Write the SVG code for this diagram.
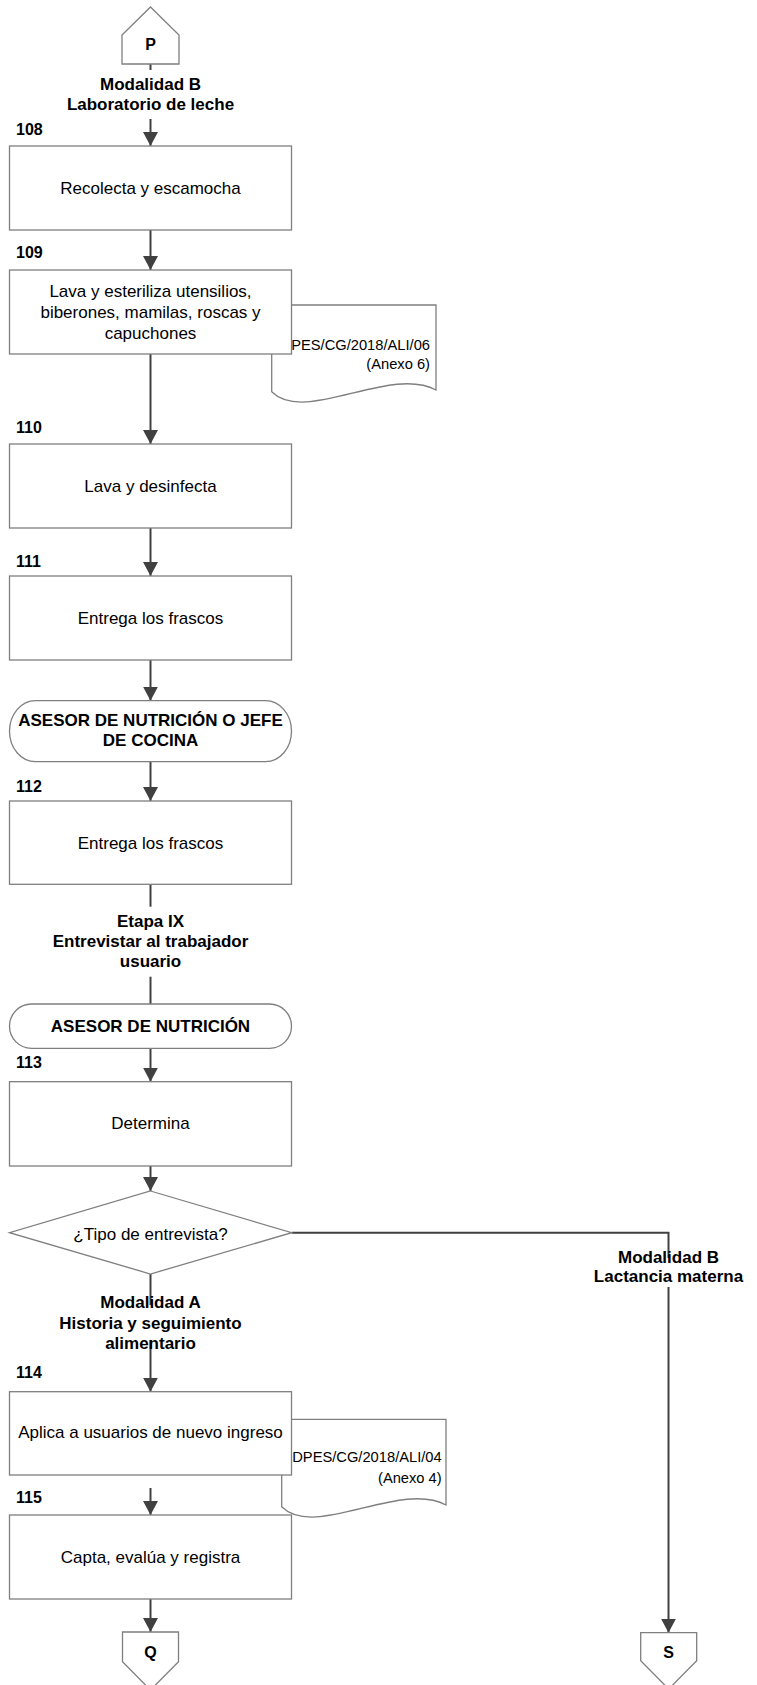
<svg xmlns="http://www.w3.org/2000/svg" width="757" height="1685" viewBox="0 0 757 1685">
<style>
text{font-family:"Liberation Sans",Arial,sans-serif;fill:#000}
.t{font-size:17px;text-anchor:middle}
.b{font-size:17px;font-weight:bold;text-anchor:middle}
.n{font-size:16px;font-weight:bold}
.c{font-size:16px;font-weight:bold;text-anchor:middle}
.d{font-size:14.7px;text-anchor:end}
.box{fill:#fff;stroke:#7f7f7f;stroke-width:1.3}
.ln{fill:none;stroke:#404040;stroke-width:2}
</style>
<defs>
<marker id="arr" viewBox="0 0 14 15" refX="14" refY="7.5" markerWidth="14" markerHeight="15" markerUnits="userSpaceOnUse" orient="auto">
<path d="M0,0 L14,7.5 L0,15 z" fill="#404040"/>
</marker>
</defs>

<g id="connectors">
<line class="ln" x1="150.5" y1="64" x2="150.5" y2="70"/>
<line class="ln" x1="150.5" y1="119" x2="150.5" y2="146" marker-end="url(#arr)"/>
<line class="ln" x1="150.5" y1="230" x2="150.5" y2="270" marker-end="url(#arr)"/>
<line class="ln" x1="150.5" y1="354" x2="150.5" y2="444" marker-end="url(#arr)"/>
<line class="ln" x1="150.5" y1="528" x2="150.5" y2="576" marker-end="url(#arr)"/>
<line class="ln" x1="150.5" y1="660" x2="150.5" y2="700.7" marker-end="url(#arr)"/>
<line class="ln" x1="150.5" y1="761.7" x2="150.5" y2="801" marker-end="url(#arr)"/>
<line class="ln" x1="150.5" y1="884.3" x2="150.5" y2="906.7"/>
<line class="ln" x1="150.5" y1="976.7" x2="150.5" y2="1004"/>
<line class="ln" x1="150.5" y1="1048.3" x2="150.5" y2="1081.7" marker-end="url(#arr)"/>
<line class="ln" x1="150.5" y1="1166" x2="150.5" y2="1191" marker-end="url(#arr)"/>
<line class="ln" x1="150.5" y1="1274" x2="150.5" y2="1305"/>
<line class="ln" x1="150.5" y1="1340" x2="150.5" y2="1391.7" marker-end="url(#arr)"/>
<line class="ln" x1="150.5" y1="1488" x2="150.5" y2="1515" marker-end="url(#arr)"/>
<line class="ln" x1="150.5" y1="1599" x2="150.5" y2="1632" marker-end="url(#arr)"/>
<path class="ln" d="M291.7,1232.7 H668.5 V1258"/>
<line class="ln" x1="668.5" y1="1287" x2="668.5" y2="1632.7" marker-end="url(#arr)"/>
<text class="b" x="150.5" y="90">Modalidad B</text>
<text class="b" x="150.5" y="110">Laboratorio de leche</text>
<text class="b" x="150.5" y="926.7">Etapa IX</text>
<text class="b" x="150.5" y="946.7">Entrevistar al trabajador</text>
<text class="b" x="150.5" y="966.7">usuario</text>
<text class="b" x="150.5" y="1308">Modalidad A</text>
<text class="b" x="150.5" y="1329">Historia y seguimiento</text>
<text class="b" x="150.5" y="1349">alimentario</text>
<text class="b" x="668.5" y="1263">Modalidad B</text>
<text class="b" x="668.5" y="1282">Lactancia materna</text>
</g>

<g id="P">
<path class="box" d="M150.5,7 L179,35 L179,64 L122,64 L122,35 Z"/>
<text class="c" x="150.5" y="50">P</text>
</g>

<g id="n108">
<text class="n" x="16" y="135">108</text>
<rect class="box" x="9.5" y="146" width="282" height="84"/>
<text class="t" x="150.5" y="194">Recolecta y escamocha</text>
</g>

<g id="doc06">
<path class="box" d="M271.7,305 H436 V390 C390,365 305,425 271.7,391.7 Z"/>
<text class="d" x="430" y="350">DPES/CG/2018/ALI/06</text>
<text class="d" x="430" y="369">(Anexo 6)</text>
</g>

<g id="n109">
<text class="n" x="16" y="258">109</text>
<rect class="box" x="9.5" y="270" width="282" height="84"/>
<text class="t" x="150.5" y="297">Lava y esteriliza utensilios,</text>
<text class="t" x="150.5" y="318">biberones, mamilas, roscas y</text>
<text class="t" x="150.5" y="339">capuchones</text>
</g>

<g id="n110">
<text class="n" x="16" y="433">110</text>
<rect class="box" x="9.5" y="444" width="282" height="84"/>
<text class="t" x="150.5" y="492">Lava y desinfecta</text>
</g>

<g id="n111">
<text class="n" x="16" y="567">111</text>
<rect class="box" x="9.5" y="576" width="282" height="84"/>
<text class="t" x="150.5" y="624">Entrega los frascos</text>
</g>

<g id="term1">
<rect class="box" x="9.5" y="700.7" width="282" height="61" rx="26" ry="30.5"/>
<text class="b" x="150.5" y="726">ASESOR DE NUTRICIÓN O JEFE</text>
<text class="b" x="150.5" y="746">DE COCINA</text>
</g>

<g id="n112">
<text class="n" x="16" y="792">112</text>
<rect class="box" x="9.5" y="801" width="282" height="83.3"/>
<text class="t" x="150.5" y="848.5">Entrega los frascos</text>
</g>

<g id="term2">
<rect class="box" x="9.5" y="1004" width="282" height="44.3" rx="22" ry="22"/>
<text class="b" x="150.5" y="1032">ASESOR DE NUTRICIÓN</text>
</g>

<g id="n113">
<text class="n" x="16" y="1068">113</text>
<rect class="box" x="9.5" y="1081.7" width="282" height="84.3"/>
<text class="t" x="150.5" y="1129">Determina</text>
</g>

<g id="decision">
<path class="box" d="M150.5,1191 L291.7,1232.7 L150.5,1274 L9.5,1232.7 Z"/>
<text class="t" x="150.5" y="1240">¿Tipo de entrevista?</text>
</g>

<g id="doc04">
<path class="box" d="M281.7,1419.3 H446 V1505 C400,1480 315,1540 281.7,1506.7 Z"/>
<text class="d" x="441.7" y="1462">DPES/CG/2018/ALI/04</text>
<text class="d" x="441.7" y="1483">(Anexo 4)</text>
</g>

<g id="n114">
<text class="n" x="16" y="1378">114</text>
<rect class="box" x="9.5" y="1391.7" width="282" height="83.3"/>
<text class="t" x="150.5" y="1438">Aplica a usuarios de nuevo ingreso</text>
</g>

<g id="n115">
<text class="n" x="16" y="1503">115</text>
<rect class="box" x="9.5" y="1515" width="282" height="84"/>
<text class="t" x="150.5" y="1563">Capta, evalúa y registra</text>
</g>

<g id="Q">
<path class="box" d="M122.5,1632 H178.5 V1661.7 L150.5,1690 L122.5,1661.7 Z"/>
<text class="c" x="150.5" y="1658">Q</text>
</g>

<g id="S">
<path class="box" d="M640.7,1632.7 H696.7 V1660.7 L668.7,1689 L640.7,1660.7 Z"/>
<text class="c" x="668.7" y="1658">S</text>
</g>
</svg>
